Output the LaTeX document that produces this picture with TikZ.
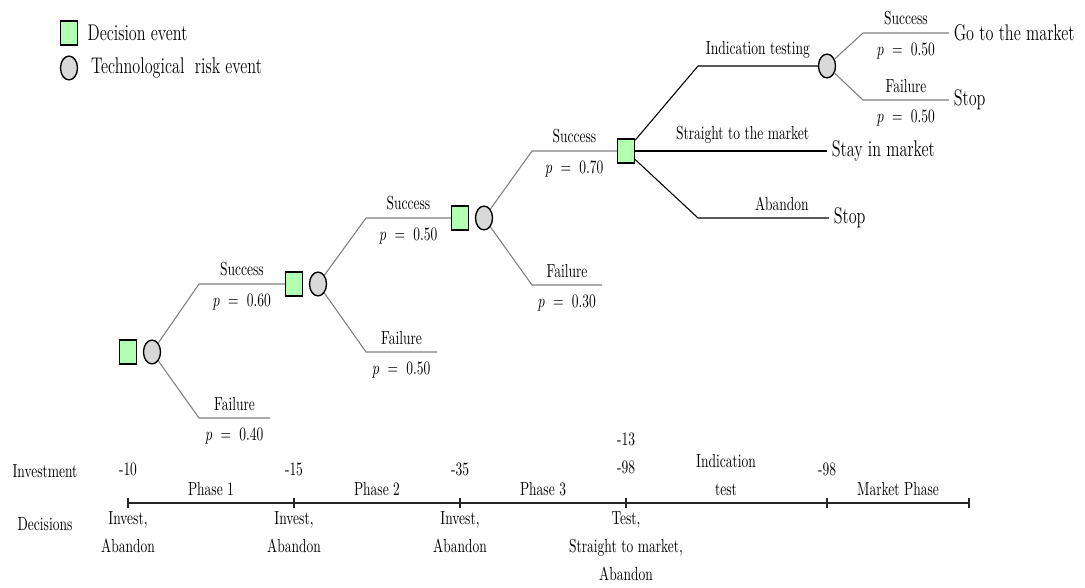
\documentclass[tikz,border=0pt]{standalone}
\usepackage{tikz}
\usetikzlibrary{positioning}
\usepackage{xcolor}
\colorlet{decgreen}{green!30}
\colorlet{riskgray}{gray!30}

\begin{document}
\begin{tikzpicture}[x=0.02604cm, y=-0.02604cm, every node/.append style={yscale=1.4},
   dec/.style={draw, line width=1pt, fill=decgreen, inner sep=0pt, minimum size=12.6pt},
   risk/.style={draw, circle, line width=1pt, fill=riskgray, inner sep=0pt, minimum size=12.6pt},
   br/.style={gray, line width=0.8pt},
   db/.style={black, line width=0.8pt},
   tl/.style={black!85, line width=1pt},
   fin/.style={font=\large, anchor=west},
   lab/.style={above=0.5pt, text=black},
   prob/.style={below=2.5pt, text=black},
   ml/.style={align=center, font={\fontsize{10}{14.8}\selectfont}}]
  \useasboundingbox (0,0) rectangle (1085,588);
  % legend
  \node[dec] (ld) at (69,33) {};
  \node[right=3.5pt of ld, font=\large] (ldt) {Decision event};
  \node[risk] (lr) at (69,68) {};
  \node[right=6pt of lr, font=\large] (lrt) {Technological\ \ risk event};
  % tree
  \node[dec] (d1) at (128,352) {};
  \node[risk] (r1) at (152,352) {};
  \node[dec] (d2) at (294,284) {};
  \node[risk] (r2) at (318,284) {};
  \node[dec] (d3) at (460,218) {};
  \node[risk] (r3) at (484,218) {};
  \node[dec] (d4) at (626,151) {};
  \node[risk] (r4) at (827,66) {};
  \node[fin] (go) at (949,33) {Go to the market};
  \node[fin] (stopb) at (949,100) {Stop};
  \node[fin] (stay) at (827,151) {Stay in market};
  \node[fin] (stopa) at (829,218) {Stop};
  \coordinate (k1s) at (199,284); \coordinate (k1f) at (199,418); \coordinate (e1f) at (270,418);
  \coordinate (k2s) at (366,218); \coordinate (k2f) at (366,352); \coordinate (e2f) at (437,352);
  \coordinate (k3s) at (532,151); \coordinate (k3f) at (532,285); \coordinate (e3f) at (602,285);
  \coordinate (kt) at (698,66); \coordinate (ka) at (698,218);
  \coordinate (k4s) at (863,33); \coordinate (k4f) at (863,100);
  \draw[br] (r1) -- (k1s) -- node[lab] {Success} node[prob] {$p\ =\ 0.60$} (d2);
  \draw[br] (r1) -- (k1f) -- node[lab] {Failure} node[prob] {$p\ =\ 0.40$} (e1f);
  \draw[br] (r2) -- (k2s) -- node[lab] {Success} node[prob] {$p\ =\ 0.50$} (d3);
  \draw[br] (r2) -- (k2f) -- node[lab] {Failure} node[prob] {$p\ =\ 0.50$} (e2f);
  \draw[br] (r3) -- (k3s) -- node[lab] {Success} node[prob] {$p\ =\ 0.70$} (d4);
  \draw[br] (r3) -- (k3f) -- node[lab] {Failure} node[prob] {$p\ =\ 0.30$} (e3f);
  \draw[db] (d4) -- (kt) -- node[lab] {Indication testing} (r4);
  \draw[db] (d4) -- node[lab, pos=0.56] {Straight to the market} (stay);
  \draw[db] (d4) -- (ka) -- node[lab, pos=0.64] {Abandon} (stopa);
  \draw[br] (r4) -- (k4s) -- node[lab] {Success} node[prob] {$p\ =\ 0.50$} (go);
  \draw[br] (r4) -- (k4f) -- node[lab] {Failure} node[prob] {$p\ =\ 0.50$} (stopb);
  % time line
  \coordinate (t0) at (128,503); \coordinate (t1) at (294,503); \coordinate (t2) at (460,503);
  \coordinate (t3) at (626,503); \coordinate (t4) at (827,503); \coordinate (t5) at (969,503);
  \draw[tl] (t0) -- (t5);
  \foreach \n in {0,...,5} \draw[tl] (t\n) ++(0,-5) -- ++(0,10);
  \node (inv) at (45,471) {Investment};
  \node (dcs) at (45,524) {Decisions};
  \node (v0) at (128,469) {-10};
  \node (v1) at (294,469) {-15};
  \node (v2) at (460,469) {-35};
  \node[ml, anchor=south] (v3) at (626,481) {-13\\-98};
  \node (v4) at (827,469) {-98};
  \node (ph1) at (211,489) {Phase 1};
  \node (ph2) at (377,489) {Phase 2};
  \node (ph3) at (543,489) {Phase 3};
  \node[ml, anchor=south] (ph4) at (726,502) {Indication\\test};
  \node (ph5) at (898,489) {Market Phase};
  \node[ml, anchor=north] (c0) at (128,505) {Invest,\\Abandon};
  \node[ml, anchor=north] (c1) at (294,505) {Invest,\\Abandon};
  \node[ml, anchor=north] (c2) at (460,505) {Invest,\\Abandon};
  \node[ml, anchor=north] (c3) at (626,505) {Test,\\Straight to market,\\Abandon};
\end{tikzpicture}
\end{document}
